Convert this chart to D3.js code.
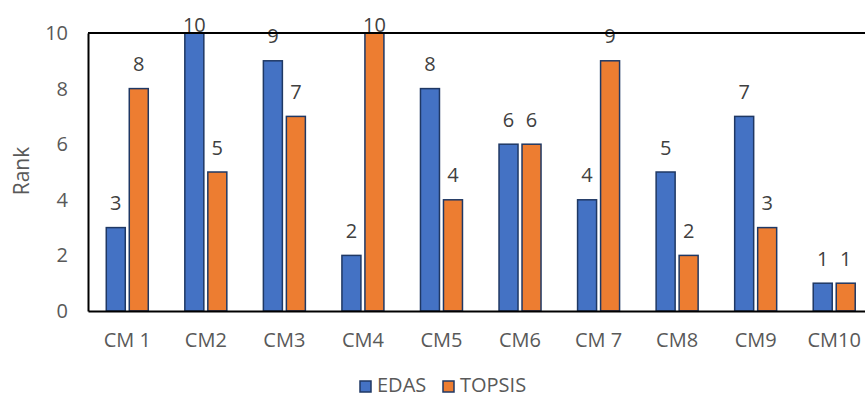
<!DOCTYPE html>
<html><head><meta charset="utf-8">
<script src="https://cdn.jsdelivr.net/npm/d3@7"></script>
<style>body{margin:0;background:#fff;} svg{display:block;}</style>
</head><body>
<svg id="c" width="865" height="398"></svg>
<script>
const categories = ["CM 1","CM2","CM3","CM4","CM5","CM6","CM 7","CM8","CM9","CM10"];
const edas = [3,10,9,2,8,6,4,5,7,1];
const topsis = [8,5,7,10,4,6,9,2,3,1];
const seriesNames = ["EDAS","TOPSIS"];
const colors = ["#4472C4","#ED7D31"];
const yTicks = [0,2,4,6,8,10];

const svg = d3.select("#c");
const m = {left:88, top:33, bottom:311, right:873.5};
const font = "'Open Sans', 'Liberation Sans', sans-serif";
const fs = 20;
const x = d3.scaleBand().domain(categories).range([m.left, m.right]).paddingInner(0).paddingOuter(0);
const y = d3.scaleLinear().domain([0,10]).range([m.bottom, m.top]);
const bw = 19, gap = 4;

const data = categories.map((c,i)=>({c, vals:[edas[i], topsis[i]]}));
const g = svg.append("g");
const lbl = svg.append("g");
data.forEach(d=>{
  d.vals.forEach((v,j)=>{
    const cx = x(d.c) + x.bandwidth()/2;
    const bx = j===0 ? cx - gap/2 - bw : cx + gap/2;
    g.append("rect").attr("x",bx).attr("y",y(v)).attr("width",bw).attr("height",y(0)-y(v))
      .attr("fill",colors[j]).attr("stroke","#1F3864").attr("stroke-width",1.5);
    lbl.append("text").attr("x",bx+bw/2).attr("y",Math.max(y(v)-17.5, 32)).attr("text-anchor","middle")
      .attr("font-family",font).attr("font-size",fs).attr("fill","#404040").text(v);
  });
});

// axes
const yAxis = svg.append("g").attr("transform",`translate(${m.left},0)`)
  .call(d3.axisLeft(y).tickValues(yTicks).tickSize(0).tickPadding(20));
yAxis.select(".domain").attr("stroke","#000").attr("stroke-width",2);
yAxis.selectAll("text").attr("font-family",font).attr("font-size",fs).attr("fill","#595959");

const xAxis = svg.append("g").attr("transform",`translate(0,${m.bottom})`)
  .call(d3.axisBottom(x).tickSize(0).tickPadding(22));
xAxis.select(".domain").attr("stroke","#000").attr("stroke-width",2);
xAxis.selectAll("text").attr("font-family",font).attr("font-size",fs).attr("fill","#595959");

svg.append("line").attr("x1",m.left).attr("x2",865).attr("y1",m.top).attr("y2",m.top)
  .attr("stroke","#000").attr("stroke-width",2);

svg.append("text").attr("transform","translate(29,171) rotate(-90)").attr("text-anchor","middle")
  .attr("font-family",font).attr("font-size",21).attr("fill","#595959").text("Rank");

// legend
const lg = svg.append("g");
const lx = [360, 443];
seriesNames.forEach((s,i)=>{
  lg.append("rect").attr("x",lx[i]).attr("y",381).attr("width",11).attr("height",11)
    .attr("fill",colors[i]).attr("stroke","#1F3864").attr("stroke-width",1.5);
  lg.append("text").attr("x",lx[i]+17).attr("y",392).attr("font-family",font).attr("font-size",fs)
    .attr("fill","#595959").text(s);
});
</script>
</body></html>
